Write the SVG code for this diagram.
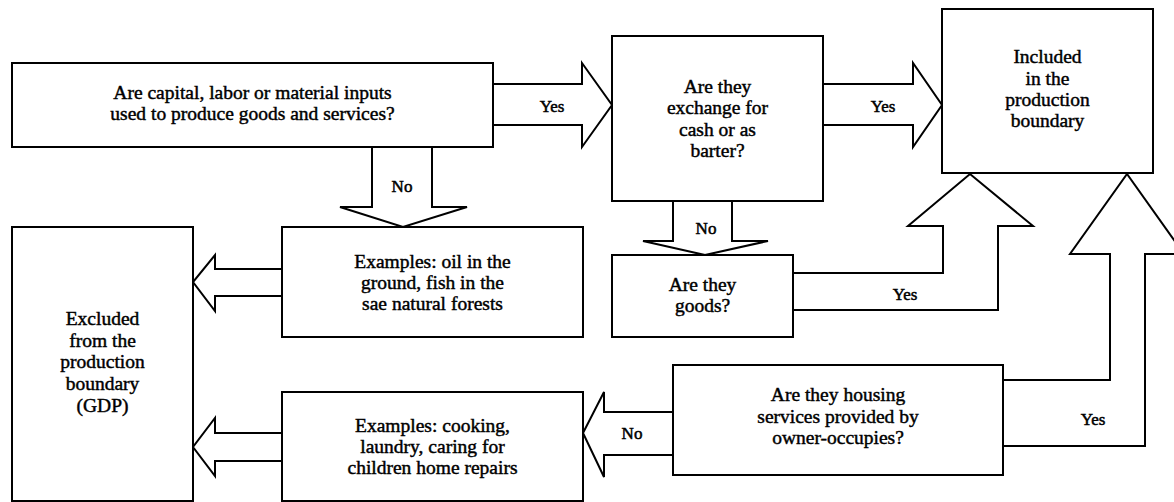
<svg xmlns="http://www.w3.org/2000/svg" width="1174" height="502" viewBox="0 0 1174 502">
<style>
.box{fill:#fff;stroke:#000;stroke-width:2}
.arr{fill:#fff;stroke:#000;stroke-width:2;stroke-linejoin:miter}
.t{font-family:"Liberation Serif","Times New Roman",serif;font-size:19.5px;text-anchor:middle;fill:#000;stroke:#000;stroke-width:0.45}
.l{font-family:"Liberation Serif","Times New Roman",serif;font-size:17px;text-anchor:middle;fill:#000;stroke:#000;stroke-width:0.5}
</style>
<rect width="1174" height="502" fill="#fff"/>
<g id="connectors">
<path class="arr" d="M493,84 H582 V63 L612,105 L582,147 V125 H493"/>
<path class="arr" d="M823,84 H913 V63 L942,105 L913,147 V125 H823"/>
<path class="arr" d="M372,147 V207 H340 L403,227 L467,207 H432 V147"/>
<path class="arr" d="M673,201 V241 H643 L705,255 L768,241 H732 V201"/>
<path class="arr" d="M282,269 H215 V255 L193,282 L215,311 V296 H282"/>
<path class="arr" d="M282,433 H215 V418 L193,447 L215,476 V461 H282"/>
<path class="arr" d="M673,412 H604 V392 L583,433 L604,477 V455 H673"/>
<path class="arr" d="M793,273 H943 V226 H908 L970,174 L1033,226 H998 V310 H793"/>
<path class="arr" d="M1003,380 H1110 V254 H1070 L1127,174 L1184,254 H1145 V446 H1003"/>
<text class="l" x="552" y="112">Yes</text>
<text class="l" x="883" y="112">Yes</text>
<text class="l" x="402" y="192">No</text>
<text class="l" x="706" y="234">No</text>
<text class="l" x="905" y="300">Yes</text>
<text class="l" x="1093" y="425">Yes</text>
<text class="l" x="632" y="439">No</text>
</g>
<g id="q-inputs">
<rect class="box" x="12" y="63" width="481" height="84"/>
<text class="t" x="252.5" y="99">Are capital, labor or material inputs</text>
<text class="t" x="252.5" y="120">used to produce goods and services?</text>
</g>
<g id="q-exchange">
<rect class="box" x="612" y="36" width="211" height="165"/>
<text class="t" x="717.5" y="93">Are they</text>
<text class="t" x="717.5" y="114">exchange for</text>
<text class="t" x="717.5" y="135.5">cash or as</text>
<text class="t" x="717.5" y="157">barter?</text>
</g>
<g id="included">
<rect class="box" x="942" y="9" width="211" height="164"/>
<text class="t" x="1047.5" y="63">Included</text>
<text class="t" x="1047.5" y="85">in the</text>
<text class="t" x="1047.5" y="106">production</text>
<text class="t" x="1047.5" y="127">boundary</text>
</g>
<g id="examples-oil">
<rect class="box" x="282" y="227" width="301" height="110"/>
<text class="t" x="432.5" y="268">Examples: oil in the</text>
<text class="t" x="432.5" y="289">ground, fish in the</text>
<text class="t" x="432.5" y="310">sae natural forests</text>
</g>
<g id="q-goods">
<rect class="box" x="612" y="255" width="181" height="82"/>
<text class="t" x="702.5" y="291">Are they</text>
<text class="t" x="702.5" y="312">goods?</text>
</g>
<g id="excluded">
<rect class="box" x="12" y="227" width="181" height="274"/>
<text class="t" x="102.5" y="325">Excluded</text>
<text class="t" x="102.5" y="347">from the</text>
<text class="t" x="102.5" y="368">production</text>
<text class="t" x="102.5" y="390">boundary</text>
<text class="t" x="102.5" y="412">(GDP)</text>
</g>
<g id="q-housing">
<rect class="box" x="673" y="365" width="330" height="110"/>
<text class="t" x="838" y="401">Are they housing</text>
<text class="t" x="838" y="423">services provided by</text>
<text class="t" x="838" y="444">owner-occupies?</text>
</g>
<g id="examples-cooking">
<rect class="box" x="282" y="392" width="301" height="109"/>
<text class="t" x="432.5" y="431.5">Examples: cooking,</text>
<text class="t" x="432.5" y="452.5">laundry, caring for</text>
<text class="t" x="432.5" y="473.5">children home repairs</text>
</g>
</svg>
